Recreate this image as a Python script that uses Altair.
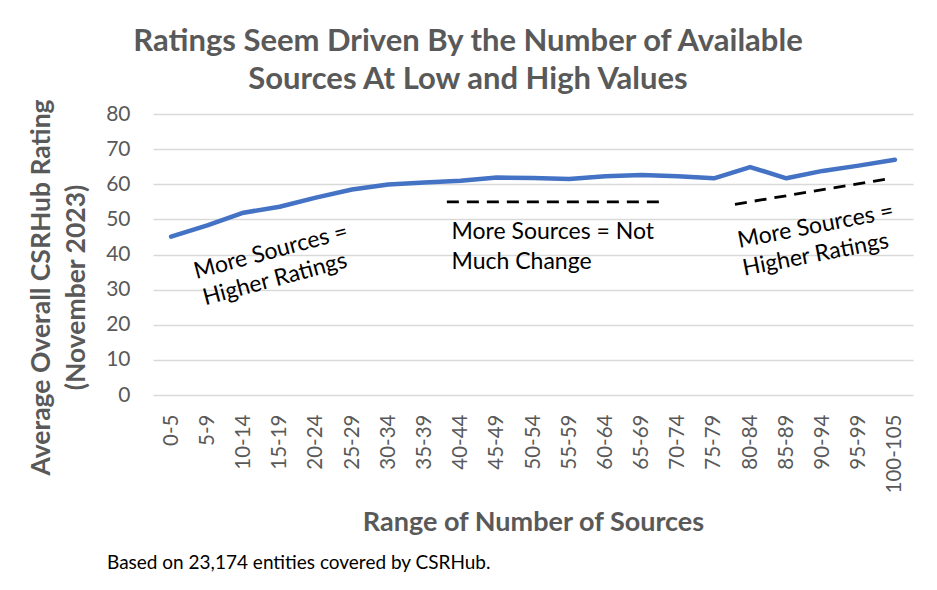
import altair as alt
import pandas as pd

ranges = ["0-5", "5-9", "10-14", "15-19", "20-24", "25-29", "30-34", "35-39",
          "40-44", "45-49", "50-54", "55-59", "60-64", "65-69", "70-74", "75-79",
          "80-84", "85-89", "90-94", "95-99", "100-105"]
ratings = [45.1, 48.3, 51.9, 53.6, 56.2, 58.5, 59.9, 60.5, 61.0, 61.9, 61.8,
           61.5, 62.3, 62.6, 62.3, 61.7, 64.9, 61.7, 63.8, 65.3, 67.0]
idx = list(range(len(ranges)))
yticks = [0, 10, 20, 30, 40, 50, 60, 70, 80]

# dashed trend annotations (in data units: category index, rating)
dash_x1 = [7.62, 15.58]
dash_y1 = [55.0, 54.3]
dash_x2 = [13.51, 19.91]
dash_y2 = [55.0, 61.7]

# text annotations
left_txt = ["More Sources =", "Higher Ratings"]
left_x = [2.76, 2.87]
left_y = [40.8, 32.9]
mid_txt = ["More Sources = Not", "Much Change"]
mid_x = [7.75, 7.75]
mid_y = [46.5, 37.8]
right_txt = ["More Sources =", "Higher Ratings"]
right_x = [17.81, 17.81]
right_y = [48.1, 39.9]

FONT = "Lato"
GRAY = "#595959"

df = pd.DataFrame({"i": idx, "range": ranges, "rating": ratings})
label_expr = "[" + ",".join("'" + r + "'" for r in ranges) + "][datum.value]"

xscale = alt.Scale(domain=[-0.5, len(ranges) - 0.5], nice=False, zero=False)
yscale = alt.Scale(domain=[0, 80], nice=False)

xaxis = alt.Axis(values=idx, tickCount=len(idx), labelExpr=label_expr,
                 labelAngle=270,
                 labelFontSize=20.5, labelColor=GRAY, labelFont=FONT,
                 labelPadding=19, labelOverlap=False, labelFlush=False,
                 domain=False, ticks=False, grid=False,
                 title="Range of Number of Sources", titleFontSize=27,
                 titleFont=FONT, titleColor=GRAY, titleFontWeight="bold",
                 titlePadding=17)
yaxis = alt.Axis(values=yticks, tickCount=len(yticks), labelFontSize=21,
                 labelColor=GRAY, labelFont=FONT, labelPadding=23,
                 labelOverlap=False, labelFlush=False,
                 domain=False, ticks=False, grid=True, gridColor="#d9d9d9",
                 gridWidth=1.3,
                 title=["Average Overall CSRHub Rating", "(November 2023)"],
                 titleFontSize=26.5, titleFont=FONT, titleColor=GRAY,
                 titleFontWeight="bold", titleAngle=270, titleLineHeight=35,
                 titleBaseline="middle", titleAlign="center",
                 titleX=-112, titleY=173)

line = alt.Chart(df).mark_line(color="#4472C4", strokeWidth=4.5,
                               strokeCap="round", strokeJoin="round").encode(
    x=alt.X("i:Q", scale=xscale, axis=xaxis),
    y=alt.Y("rating:Q", scale=yscale, axis=yaxis))

dash_df = pd.DataFrame({"x1": dash_x1, "y1": dash_y1, "x2": dash_x2, "y2": dash_y2})
dashes = alt.Chart(dash_df).mark_rule(color="black", strokeWidth=2.8,
                                      strokeDash=[12, 8]).encode(
    x=alt.X("x1:Q", scale=xscale, axis=xaxis),
    y=alt.Y("y1:Q", scale=yscale, axis=yaxis),
    x2="x2:Q", y2="y2:Q")

def ann(txts, xs, ys, angle, align):
    d = pd.DataFrame({"t": txts, "x": xs, "y": ys})
    return alt.Chart(d).mark_text(font=FONT, fontSize=23, color="black",
                                  angle=angle, align=align, baseline="middle").encode(
        x=alt.X("x:Q", scale=xscale, axis=xaxis),
        y=alt.Y("y:Q", scale=yscale, axis=yaxis),
        text="t:N")

left = ann(left_txt, left_x, left_y, 345, "center")
mid = ann(mid_txt, mid_x, mid_y, 0, "left")
right = ann(right_txt, right_x, right_y, 349, "center")

foot = alt.Chart(pd.DataFrame({"t": ["Based on 23,174 entities covered by CSRHub."]})).mark_text(
    font=FONT, fontSize=19, color="black", align="left", baseline="middle").encode(
    x=alt.value(-46), y=alt.value(449), text="t:N")

chart = alt.layer(line, dashes, left, mid, right, foot).properties(
    width=760, height=281,
    background="white",
    autosize=alt.AutoSizeParams(type="none"),
    padding={"left": 145, "top": 106, "right": 16, "bottom": 187},
    title=alt.TitleParams(["Ratings Seem Driven By the Number of Available",
                           "Sources At Low and High Values"],
                          font=FONT, fontSize=31, fontWeight="bold", color=GRAY,
                          anchor="middle", dx=-65, offset=3, lineHeight=38),
).configure_view(stroke=None)

chart.save("out.html", embed_options={"renderer": "svg", "actions": False})
